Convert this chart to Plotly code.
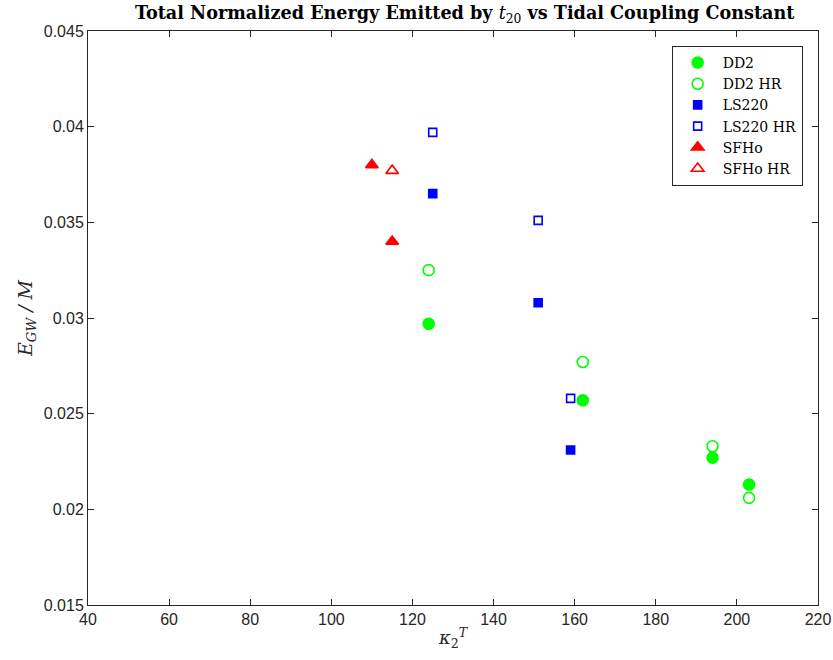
import plotly.graph_objects as go

# Data
dd2_x = [124, 162, 194, 203]
dd2_y = [0.0297, 0.0257, 0.0227, 0.0213]
dd2hr_x = [124, 162, 194, 203]
dd2hr_y = [0.0325, 0.0277, 0.0233, 0.0206]
ls220_x = [125, 151, 159]
ls220_y = [0.0365, 0.0308, 0.0231]
ls220hr_x = [125, 151, 159]
ls220hr_y = [0.0397, 0.0351, 0.0258]
sfho_x = [110, 115]
sfho_y = [0.0380, 0.0340]
sfhohr_x = [115]
sfhohr_y = [0.0377]

x_ticks = [40, 60, 80, 100, 120, 140, 160, 180, 200, 220]
y_ticks = [0.015, 0.02, 0.025, 0.03, 0.035, 0.04, 0.045]
y_ticktext = ["0.015", "0.02", "0.025", "0.03", "0.035", "0.04", "0.045"]

fig = go.Figure()

def add(x, y, name, symbol, color, size):
    fig.add_trace(go.Scatter(
        x=x, y=y, mode="markers", name=name,
        marker=dict(symbol=symbol, color=color, size=size,
                    line=dict(color=color, width=1.6)),
    ))

add(dd2_x, dd2_y, "DD2", "circle", "#00FF00", 11)
add(dd2hr_x, dd2hr_y, "DD2 HR", "circle-open", "#00FF00", 11)
add(ls220_x, ls220_y, "LS220", "square", "#0000FF", 8)
add(ls220hr_x, ls220hr_y, "LS220 HR", "square-open", "#0000FF", 8)
add(sfho_x, sfho_y, "SFHo", "triangle-up", "#FF0000", 11)
add(sfhohr_x, sfhohr_y, "SFHo HR", "triangle-up-open", "#FF0000", 11)

serif = "DejaVu Serif, Liberation Serif"
axis_common = dict(
    showline=True, linecolor="#262626", linewidth=1, mirror="ticks",
    ticks="inside", ticklen=6, tickcolor="#262626", showgrid=False,
    zeroline=False, automargin=False,
    tickfont=dict(family="Liberation Sans, Arial", size=16, color="#262626"),
)

fig.update_layout(
    width=833, height=660,
    margin=dict(l=88, r=15, t=31, b=55, autoexpand=False),
    paper_bgcolor="white", plot_bgcolor="white",
    title=dict(
        text="<b>Total Normalized Energy Emitted by </b><i>t</i><sub>20</sub><b> vs Tidal Coupling Constant</b>",
        xref="paper", x=0.516, xanchor="center",
        yref="container", y=0.99, yanchor="top",
        font=dict(family=serif, size=17.6, color="black"),
    ),
    xaxis=dict(range=[40, 220], tickvals=x_ticks, ticktext=[str(v) for v in x_ticks],
               title=dict(text="<i>κ</i><sub>2</sub><sup><i>T</i></sup>", standoff=4,
                          font=dict(family=serif, size=18, color="#262626")),
               **axis_common),
    yaxis=dict(range=[0.015, 0.045], tickvals=y_ticks, ticktext=y_ticktext,
               title=dict(text="<i>E</i><sub><i>GW</i></sub><i> / M</i>", standoff=6,
                          font=dict(family=serif, size=19, color="#262626")),
               **axis_common),
    legend=dict(
        x=0.979, y=0.974, xanchor="right", yanchor="top",
        bgcolor="white", bordercolor="#262626", borderwidth=1,
        font=dict(family=serif, size=14, color="black"),
        itemwidth=40, tracegroupgap=0,
    ),
    showlegend=True,
)

fig.write_html("out.html", config={"displayModeBar": False},
               post_script="document.body.style.margin='0px';")
